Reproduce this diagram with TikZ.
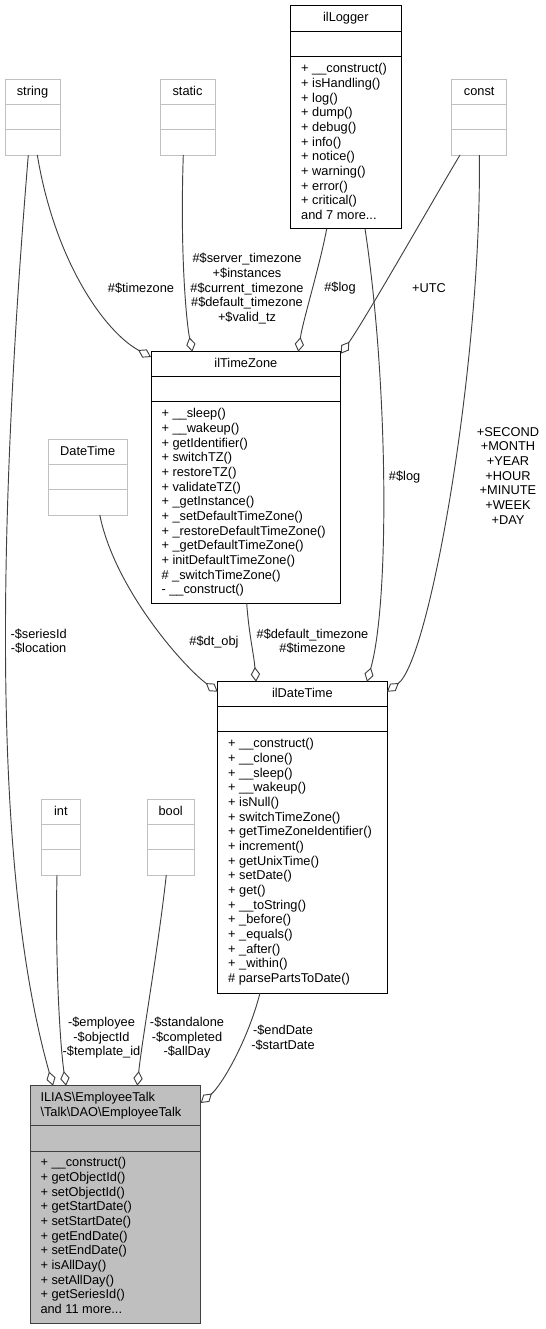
\documentclass[tikz,border=0pt]{standalone}
\usepackage{fontspec}
\setmainfont{Liberation Sans}
\usetikzlibrary{arrows.meta,calc,fit}
\definecolor{edgegray}{HTML}{404040}
\definecolor{boxgray}{HTML}{BFBFBF}
\definecolor{extgray}{HTML}{C0C0C0}
\newcommand{\firstln}{\rule{0pt}{8pt}}
\tikzset{
  txt/.style={font=\fontsize{9.6}{11}\selectfont, inner sep=0pt, outer sep=0pt, text=black},
  ttl/.style={txt, anchor=base},
  lst/.style={txt, align=left, anchor=north west},
  lbl/.style={txt, align=center, anchor=center},
  cls/.style={draw=black, fill=white, inner sep=0pt, outer sep=0pt, line width=0.75pt},
  ext/.style={draw=extgray, fill=white, inner sep=0pt, outer sep=0pt, line width=0.75pt},
  mainc/.style={draw=edgegray, fill=boxgray, inner sep=0pt, outer sep=0pt, line width=0.75pt},
  clsdiv/.style={draw=black, line width=0.75pt},
  extdiv/.style={draw=extgray, line width=0.75pt},
  maindiv/.style={draw=edgegray, line width=0.75pt},
  agg/.style={draw=edgegray, line width=0.7pt, -{Diamond[open, length=11pt, width=7pt]}}
}
\begin{document}
\begin{tikzpicture}[x=0.75pt,y=-0.75pt]
\useasboundingbox (0,0) rectangle (546,1329);

% ---------- external (grey) types ----------
\node[ext, fit={(5,79) (60,155)}] (string) {};
\draw[extdiv] (string.west |- 0,104.3) -- (string.east |- 0,104.3);
\draw[extdiv] (string.west |- 0,129.7) -- (string.east |- 0,129.7);
\node[ttl] (stringT) at (32.5,95) {string};

\node[ext, fit={(160,79) (215,155)}] (static) {};
\draw[extdiv] (static.west |- 0,104.3) -- (static.east |- 0,104.3);
\draw[extdiv] (static.west |- 0,129.7) -- (static.east |- 0,129.7);
\node[ttl] (staticT) at (187.5,95) {static};

\node[ext, fit={(451.7,79) (506.7,155)}] (const) {};
\draw[extdiv] (const.west |- 0,104.3) -- (const.east |- 0,104.3);
\draw[extdiv] (const.west |- 0,129.7) -- (const.east |- 0,129.7);
\node[ttl] (constT) at (479.2,95) {const};

\node[ext, fit={(48,439.3) (127.4,515)}] (datetime) {};
\draw[extdiv] (datetime.west |- 0,464.6) -- (datetime.east |- 0,464.6);
\draw[extdiv] (datetime.west |- 0,489.8) -- (datetime.east |- 0,489.8);
\node[ttl] (datetimeT) at (87.7,455.3) {DateTime};

\node[ext, fit={(41.3,799) (80.5,875)}] (int) {};
\draw[extdiv] (int.west |- 0,824.3) -- (int.east |- 0,824.3);
\draw[extdiv] (int.west |- 0,849.7) -- (int.east |- 0,849.7);
\node[ttl] (intT) at (60.9,815) {int};

\node[ext, fit={(147,799) (194.3,875)}] (bool) {};
\draw[extdiv] (bool.west |- 0,824.3) -- (bool.east |- 0,824.3);
\draw[extdiv] (bool.west |- 0,849.7) -- (bool.east |- 0,849.7);
\node[ttl] (boolT) at (170.65,815) {bool};

% ---------- ilLogger ----------
\node[cls, fit={(290.7,5.7) (401,228.7)}] (logger) {};
\draw[clsdiv] (logger.west |- 0,31.7) -- (logger.east |- 0,31.7);
\draw[clsdiv] (logger.west |- 0,56.7) -- (logger.east |- 0,56.7);
\node[ttl] (loggerT) at (345.85,21.7) {ilLogger};
\node[lst] (loggerM) at (301.2,62.0) {\firstln+ \_\_construct()\\+ isHandling()\\+ log()\\+ dump()\\+ debug()\\+ info()\\+ notice()\\+ warning()\\+ error()\\+ critical()\\and 7 more...};

% ---------- ilTimeZone ----------
\node[cls, fit={(151,351.7) (340.7,603.3)}] (tz) {};
\draw[clsdiv] (tz.west |- 0,376.7) -- (tz.east |- 0,376.7);
\draw[clsdiv] (tz.west |- 0,401.7) -- (tz.east |- 0,401.7);
\node[ttl] (tzT) at (245.85,367.7) {ilTimeZone};
\node[lst] (tzM) at (161.5,407.0) {\firstln+ \_\_sleep()\\+ \_\_wakeup()\\+ getIdentifier()\\+ switchTZ()\\+ restoreTZ()\\+ validateTZ()\\+ \_getInstance()\\+ \_setDefaultTimeZone()\\+ \_restoreDefaultTimeZone()\\+ \_getDefaultTimeZone()\\+ initDefaultTimeZone()\\\# \_switchTimeZone()\\- \_\_construct()};

% ---------- ilDateTime ----------
\node[cls, fit={(217.7,681.7) (387,993)}] (dt) {};
\draw[clsdiv] (dt.west |- 0,706.7) -- (dt.east |- 0,706.7);
\draw[clsdiv] (dt.west |- 0,731.7) -- (dt.east |- 0,731.7);
\node[ttl] (dtT) at (302.35,697.7) {ilDateTime};
\node[lst] (dtM) at (228.2,737.0) {\firstln+ \_\_construct()\\+ \_\_clone()\\+ \_\_sleep()\\+ \_\_wakeup()\\+ isNull()\\+ switchTimeZone()\\+ getTimeZoneIdentifier()\\+ increment()\\+ getUnixTime()\\+ setDate()\\+ get()\\+ \_\_toString()\\+ \_before()\\+ \_equals()\\+ \_after()\\+ \_within()\\\# parsePartsToDate()};

% ---------- EmployeeTalk ----------
\node[mainc, fit={(30,1085.7) (200.7,1323)}] (et) {};
\draw[maindiv] (et.west |- 0,1125.7) -- (et.east |- 0,1125.7);
\draw[maindiv] (et.west |- 0,1151) -- (et.east |- 0,1151);
\node[lst] (etT) at (40.5,1091.0) {\firstln ILIAS\textbackslash EmployeeTalk\\\textbackslash Talk\textbackslash DAO\textbackslash EmployeeTalk};
\node[lst] (etM) at (40.5,1156.3) {\firstln+ \_\_construct()\\+ getObjectId()\\+ setObjectId()\\+ getStartDate()\\+ setStartDate()\\+ getEndDate()\\+ setEndDate()\\+ isAllDay()\\+ setAllDay()\\+ getSeriesId()\\and 11 more...};

% ---------- connectors ----------
\draw[agg] ($(string.south west)+(32.3,0)$) .. controls (55,262) and (105,332) .. ($(tz.north west)+(0,5.3)$);
\draw[agg] ($(static.south west)+(23.3,0)$) .. controls (180,250) and (186,320) .. ($(tz.north west)+(41.3,0)$);
\draw[agg] ($(logger.south west)+(36,0)$) .. controls (320,265) and (303,320) .. ($(tz.north west)+(147.3,0)$);
\draw[agg] ($(const.south west)+(8.3,0)$) .. controls (440,188) and (365,320) .. ($(tz.north east)+(0,2)$);
\draw[agg] ($(logger.south west)+(74.3,0)$) .. controls (388,380) and (390,600) .. ($(dt.north west)+(149.3,0)$);
\draw[agg] ($(const.south west)+(27.6,0)$) .. controls (482,360) and (430,660) .. ($(dt.north east)+(0,10)$);
\draw[agg] ($(datetime.south west)+(51.8,0)$) .. controls (115,590) and (185,668) .. ($(dt.north west)+(0,10)$);
\draw[agg] ($(tz.south west)+(95.7,0)$) .. controls (249,635) and (254,655) .. ($(dt.north west)+(38.3,0)$);
\draw[agg] ($(string.south west)+(23.3,0)$) .. controls (-5,560) and (-5,880) .. ($(et.north west)+(23,0)$);
\draw[agg] ($(int.south west)+(15.7,0)$) .. controls (55,960) and (60,1045) .. ($(et.north west)+(36,0)$);
\draw[agg] ($(bool.south west)+(19.3,0)$) .. controls (158,950) and (142,1040) .. ($(et.north west)+(107.3,0)$);
\draw[agg] ($(dt.south west)+(42.3,0)$) .. controls (248,1040) and (222,1085) .. ($(et.north east)+(0,17.3)$);

% ---------- connector labels ----------
\node[lbl] (l1) at (141,288.3) {\#\$timezone};
\node[lbl] (l2) at (247,288.8) {\#\$server\_timezone\\+\$instances\\\#\$current\_timezone\\\#\$default\_timezone\\+\$valid\_tz};
\node[lbl] (l3) at (340,288.3) {\#\$log};
\node[lbl] (l4) at (429,288.3) {+UTC};
\node[lbl] (l5) at (404.6,476.7) {\#\$log};
\node[lbl] (l6) at (508,475.8) {+SECOND\\+MONTH\\+YEAR\\+HOUR\\+MINUTE\\+WEEK\\+DAY};
\node[lbl] (l7) at (214,641.7) {\#\$dt\_obj};
\node[lbl] (l8) at (312.5,641.3) {\#\$default\_timezone\\\#\$timezone};
\node[lbl] (l9) at (38.6,641.3) {-\$seriesId\\-\$location};
\node[lbl] (l10) at (101.5,1037.8) {-\$employee\\-\$objectId\\-\$template\_id};
\node[lbl] (l11) at (187,1037.8) {-\$standalone\\-\$completed\\-\$allDay};
\node[lbl] (l12) at (283,1037.9) {-\$endDate\\-\$startDate};
\end{tikzpicture}
\end{document}
